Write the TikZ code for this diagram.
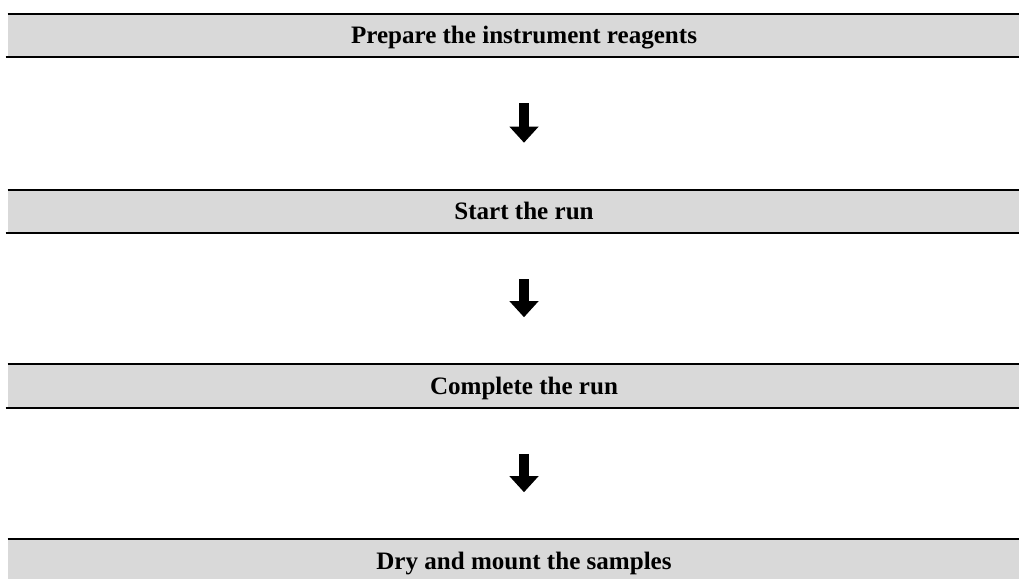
\documentclass[tikz,border=0pt]{standalone}
\usepackage{fontspec}
\setmainfont{Liberation Serif}
\usetikzlibrary{arrows.meta}
\definecolor{barfill}{HTML}{D9D9D9}
\tikzset{
  stepbar/.style={fill=barfill, minimum width=774pt, minimum height=32.25pt,
    inner sep=0pt, text height=12.4pt, text depth=0pt,
    font=\bfseries\fontsize{18.8}{21}\selectfont},
  barline/.style={line width=1.5pt},
  flowarrow/.style={line width=7.5pt, -{Triangle[width=21pt,length=12pt]},
    shorten <=34.5pt, shorten >=35.25pt}
}
\begin{document}
\begin{tikzpicture}[x=0.75pt,y=-0.75pt]
  \useasboundingbox (0,0) rectangle (1019,578);
  \def\barx{524}

  \node[stepbar] (prepare)  at (\barx,35.5)  {Prepare the instrument reagents};
  \node[stepbar] (start)    at (\barx,211.5) {Start the run};
  \node[stepbar] (complete) at (\barx,386)   {Complete the run};
  \node[stepbar] (dry)      at (\barx,561)   {Dry and mount the samples};

  % rules above and below each bar
  \foreach \b in {prepare,start,complete,dry} {
    \draw[barline] (\b.north west) -- (\b.north east);
    \draw[barline] ([xshift=-1.5pt]\b.south west) -- (\b.south east);
  }

  \draw[flowarrow] (prepare) -- (start);
  \draw[flowarrow] (start) -- (complete);
  \draw[flowarrow] (complete) -- (dry);
\end{tikzpicture}
\end{document}
